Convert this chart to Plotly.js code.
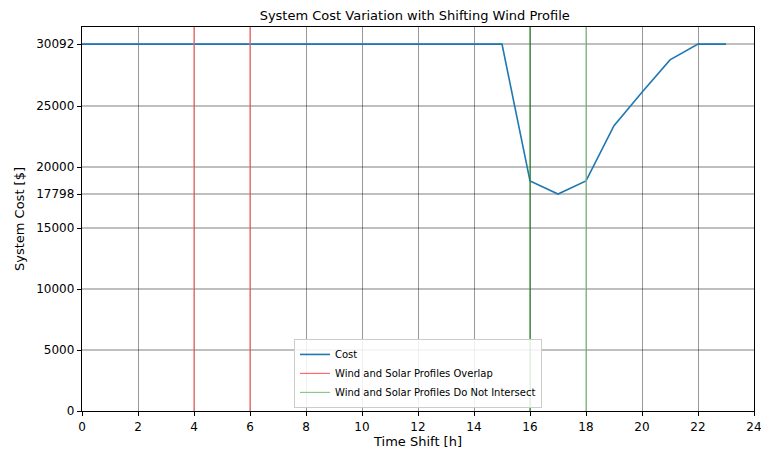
<!DOCTYPE html>
<html>
<head>
<meta charset="utf-8">
<script src="https://cdn.plot.ly/plotly-3.0.1.min.js"></script>
<style>html,body{margin:0;padding:0;background:#fff;}#chart{width:761px;height:452px;}</style>
</head>
<body>
<div id="chart"></div>
<script>
// Data
const timeShift = [0,1,2,3,4,5,6,7,8,9,10,11,12,13,14,15,16,17,18,19,20,21,22,23];
const systemCost = [30092,30092,30092,30092,30092,30092,30092,30092,30092,30092,30092,30092,30092,30092,30092,30092,18870,17798,18870,23400,26150,28800,30092,30092];
const overlapShifts = [4, 6];
const disjointShifts = [16, 18];
const yTickVals = [0,5000,10000,15000,17798,20000,25000,30092];
const xTickVals = [0,2,4,6,8,10,12,14,16,18,20,22,24];
const yMax = 31500;

function vline(xv, color, name, show, w) {
  return {x:[xv,xv], y:[0,yMax], mode:'lines', type:'scatter', name:name,
    line:{color:color, width:w}, showlegend:show, legendgroup:name, hoverinfo:'skip'};
}

const traces = [];
traces.push({x:timeShift, y:systemCost, mode:'lines', type:'scatter', name:'Cost',
  line:{color:'#1f77b4', width:1.6}});
overlapShifts.forEach((s,i)=>traces.push(vline(s,'#ff6a6a','Wind and Solar Profiles Overlap', i===0, 1.2)));
const greenCols = ['#2a8a2a','#88c888'];
disjointShifts.forEach((s,i)=>traces.push(vline(s,greenCols[i],'Wind and Solar Profiles Do Not Intersect', false, 1.2)));
// legend sample for the green lines
traces.push({x:[null], y:[null], mode:'lines', type:'scatter', name:'Wind and Solar Profiles Do Not Intersect',
  line:{color:'#88c888', width:1.2}, showlegend:true, hoverinfo:'skip'});

const font = {family:'DejaVu Sans, sans-serif', color:'#000'};
const layout = {
  width:761, height:452,
  margin:{l:82, r:7, t:27, b:41},
  paper_bgcolor:'#fff', plot_bgcolor:'#fff',
  font:Object.assign({size:12}, font),
  title:{text:'System Cost Variation with Shifting Wind Profile', font:Object.assign({size:13}, font), x:0.545, xanchor:'center', y:0.965, yanchor:'middle'},
  xaxis:{range:[0,24.0001], tickvals:xTickVals, ticktext:xTickVals.map(String),
    showgrid:true, gridcolor:'rgba(0,0,0,0.4)', gridwidth:1,
    showline:true, linecolor:'#000', linewidth:1.2, mirror:true,
    ticks:'outside', ticklen:4, tickcolor:'#000', zeroline:false,
    ticklabeloverflow:'allow',
    title:{text:'Time Shift [h]', font:Object.assign({size:13}, font), standoff:4},
    tickfont:Object.assign({size:12}, font)},
  yaxis:{range:[0,yMax], tickvals:yTickVals, ticktext:yTickVals.map(String),
    showgrid:true, gridcolor:'rgba(0,0,0,0.25)', gridwidth:1.5,
    showline:true, linecolor:'#000', linewidth:1.2, mirror:true,
    ticks:'outside', ticklen:4, tickcolor:'#000', zeroline:false,
    title:{text:'System Cost [$]', font:Object.assign({size:13}, font), standoff:8},
    tickfont:Object.assign({size:12}, font)},
  legend:{x:0.5, xanchor:'center', y:0.008, yanchor:'bottom',
    bgcolor:'rgba(255,255,255,0.85)', bordercolor:'#ccc', borderwidth:1,
    font:Object.assign({size:10}, font), tracegroupgap:0, itemwidth:30},
  showlegend:true
};

Plotly.newPlot('chart', traces, layout, {displayModeBar:false, staticPlot:true});
</script>
</body>
</html>
